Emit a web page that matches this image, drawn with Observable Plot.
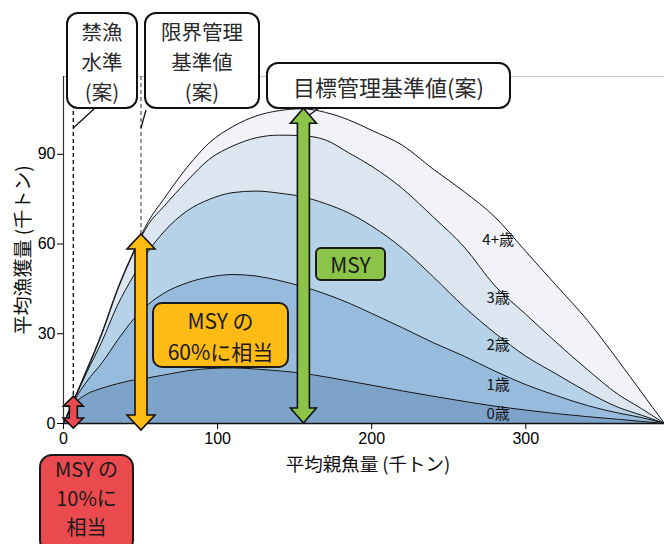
<!DOCTYPE html>
<html><head><meta charset="utf-8">
<script src="https://cdn.jsdelivr.net/npm/d3@7"></script>
<script src="https://cdn.jsdelivr.net/npm/@observablehq/plot@0.6"></script>
<style>
html,body{margin:0;padding:0;background:#fff;}
#chart svg{display:block;}
</style></head><body><div id="chart"></div>
<script>
// ---- data ----
const ages = ["0歳", "1歳", "2歳", "3歳", "4+歳"];
const ssb = [0, 7, 15, 25, 35, 45, 55, 65, 80, 95, 110, 125, 140, 155, 170, 185, 200, 220, 240, 260, 280, 300, 320, 340, 360, 375, 390];
const age0 = [0, 6.5, 9.8, 11.8, 13.3, 14.5, 15.3, 16.2, 17.6, 18.4, 18.6, 18.2, 17.6, 16.8, 15.6, 14.2, 12.8, 10.9, 9.1, 7.4, 5.8, 4.5, 3.3, 2.3, 1.4, 0.7, 0];
const age1 = [0, 1.1, 4.2, 8.5, 14.5, 20.1, 24.5, 27.3, 29.4, 30.6, 31.2, 31.1, 30.2, 29.0, 27.7, 26.1, 24.0, 21.1, 17.9, 15.1, 11.7, 8.5, 6.0, 3.7, 2.1, 1.3, 0];
const age2 = [0, 0.4, 3.0, 7.2, 11.7, 14.4, 17.7, 20.5, 24.0, 26.0, 27.4, 28.4, 29.2, 30.0, 30.2, 30.1, 29.2, 26.5, 22.0, 16.5, 12.7, 9.5, 7.2, 4.5, 1.9, 0.8, 0];
const age3 = [0, 0.2, 0.5, 2.5, 5.0, 7.5, 9.0, 8.5, 10.0, 13.5, 15.6, 17.8, 19.4, 20.4, 21.3, 20.1, 20.0, 20.0, 20.0, 20.0, 15.8, 14.0, 10.5, 7.5, 4.3, 2.2, 0];
const age4 = [0, 0.1, 0.5, 0.5, 0.5, 0.5, 1.0, 2.5, 4.5, 5.5, 6.5, 7.3, 8.2, 9.0, 9.2, 11.0, 12.0, 14.5, 16.0, 18.5, 23.0, 21.0, 19.0, 16.5, 11.3, 5.5, 0];
const series = [age0, age1, age2, age3, age4];
const layerColors = ["#7ea3cb", "#96bbdc", "#b6d2e9", "#dbe6f1", "#f1f3f8"];

const xTicks = [0, 100, 200, 300];
const yTicks = [0, 30, 60, 90];
const xLabel = "平均親魚量 (千トン)";
const yLabel = "平均漁獲量 (千トン)";
const labelSSB = 273;

// reference points: 禁漁水準, 限界管理基準値, 目標管理基準値
const refTitles = [["禁漁", "水準", "(案)"], ["限界管理", "基準値", "(案)"], ["目標管理基準値(案)"]];
const refSSB = [6.7, 50.6, 156];
const refCatch = [9, 63.2, 105.2];
const refNotes = [["MSY の", "10%に", "相当"], ["MSY の", "60%に相当"], ["MSY"]];
const refColors = ["#eb4a4f", "#fdbb13", "#8cc349"];

// ---- derived table ----
const table = ages.flatMap((a, i) => ssb.map((x, j) => ({age: a, x, y: series[i][j]})));
function interp(arr, x) {
  for (let j = 1; j < ssb.length; j++) {
    if (x <= ssb[j]) { const t = (x - ssb[j-1]) / (ssb[j] - ssb[j-1]); return arr[j-1] + t * (arr[j] - arr[j-1]); }
  }
  return arr[arr.length - 1];
}
let acc = 0;
const labelRows = ages.map((a, i) => { const v = interp(series[i], labelSSB); const mid = acc + v / 2; acc += v; return {age: a, x: labelSSB, y: mid}; });

const CJK = "'Noto Sans CJK JP', 'Noto Sans', sans-serif";
const LAT = "'Liberation Sans', Arial, sans-serif";

function arrowPath(cx, yT, yB, hw, sw, hl) {
  return `M${cx},${yT}L${cx+hw},${yT+hl}L${cx+sw},${yT+hl}L${cx+sw},${yB-hl}L${cx+hw},${yB-hl}L${cx},${yB}L${cx-hw},${yB-hl}L${cx-sw},${yB-hl}L${cx-sw},${yT+hl}L${cx-hw},${yT+hl}Z`;
}

function multiline(g, lines, cx, cy0, lh, size, fill) {
  const t = g.append("text").attr("text-anchor", "middle").attr("dominant-baseline", "central")
    .attr("font-family", CJK).attr("font-size", size).attr("fill", fill);
  lines.forEach((s, k) => {
    t.append("tspan").attr("x", cx).attr("y", cy0 + k * lh).text(s);
  });
}

function annotations(index, scales, values, dims) {
  const X = scales.x, Y = scales.y;
  const g = d3.create("svg:g");
  const top = dims.marginTop;
  // dashed guide lines
  [0, 1].forEach(i => {
    g.append("line").attr("x1", X(refSSB[i])).attr("x2", X(refSSB[i]))
      .attr("y1", top).attr("y2", Y(refCatch[i]))
      .attr("stroke", i === 0 ? "#111" : "#444").attr("stroke-width", i === 0 ? 1.4 : 1.1)
      .attr("stroke-dasharray", "4,3");
  });
  // arrows
  const arrowGeom = [
    {hw: 10, sw: 4, hl: 10, bottomExtra: 5},
    {hw: 14, sw: 6, hl: 15, bottomExtra: 7},
    {hw: 13, sw: 6, hl: 15, bottomExtra: 0}
  ];
  refSSB.forEach((s, i) => {
    const a = arrowGeom[i];
    g.append("path").attr("d", arrowPath(X(s), Y(refCatch[i]), Y(0) + a.bottomExtra, a.hw, a.sw, a.hl))
      .attr("fill", refColors[i]).attr("stroke", "#111").attr("stroke-width", 1.6).attr("stroke-linejoin", "miter");
  });
  // callout boxes
  const callouts = [
    {x0: 67, x1: 137, y0: 13, y1: 108, tail: [[95, 108], [X(refSSB[0]), 128]]},
    {x0: 145, x1: 259, y0: 13, y1: 108, tail: [[146, 110], [X(refSSB[1]), 128]]},
    {x0: 267, x1: 510, y0: 63, y1: 108, tail: [[319, 108], [X(refSSB[2]) + 6, 115]]}
  ];
  callouts.forEach((c, i) => {
    g.append("rect").attr("x", c.x0).attr("y", c.y0).attr("width", c.x1 - c.x0).attr("height", c.y1 - c.y0)
      .attr("rx", 11).attr("fill", "#fff").attr("stroke", "#111").attr("stroke-width", 2);
    g.append("line").attr("x1", c.tail[0][0]).attr("y1", c.tail[0][1]).attr("x2", c.tail[1][0]).attr("y2", c.tail[1][1])
      .attr("stroke", "#111").attr("stroke-width", 1.3);
    const lines = refTitles[i];
    const lh = 30;
    const cy = (c.y0 + c.y1) / 2 - (lines.length - 1) * lh / 2;
    multiline(g, lines, (c.x0 + c.x1) / 2, cy, lh, lines.length > 1 ? 20.5 : 22, "#2a2a2a");
  });
  // note boxes
  const notes = [
    {x0: 40, x1: 133, y0: 455, y1: 552, rx: 12, size: 20, lh: 29, cy0: 468},
    {x0: 153, x1: 288, y0: 303, y1: 367, rx: 9, size: 21, lh: 30.5, cy0: 320},
    {x0: 316, x1: 385, y0: 248, y1: 280, rx: 5, size: 21, lh: 30.5, cy0: 264}
  ];
  notes.forEach((n, i) => {
    g.append("rect").attr("x", n.x0).attr("y", n.y0).attr("width", n.x1 - n.x0).attr("height", n.y1 - n.y0)
      .attr("rx", n.rx).attr("fill", refColors[i]).attr("stroke", "#1a1a1a").attr("stroke-width", 2);
    multiline(g, refNotes[i], (n.x0 + n.x1) / 2, n.cy0, n.lh, n.size, "#1a1a1a");
  });
  return g.node();
}

const chart = Plot.plot({
  width: 664,
  height: 544,
  marginLeft: 63,
  marginRight: 0,
  marginTop: 76,
  marginBottom: 121,
  style: {fontFamily: LAT, fontSize: "16px", background: "#fff", overflow: "visible"},
  x: {domain: [0, 390]},
  y: {domain: [0, 116]},
  color: {domain: ages, range: layerColors},
  marks: [
    Plot.areaY(table, {x: "x", y: "y", z: "age", fill: "age", curve: "monotone-x"}),
    Plot.lineY(table, Plot.stackY2({x: "x", y: "y", z: "age", stroke: "#151515", strokeWidth: 1, curve: "monotone-x"})),
    Plot.ruleY([116], {stroke: "#c4c4c4", strokeWidth: 1}),
    Plot.ruleX([0], {stroke: "#333", strokeWidth: 1.2}),
    Plot.ruleY([0], {stroke: "#111", strokeWidth: 1.3}),
    Plot.axisX({ticks: xTicks, tickSize: 6, tickPadding: 3, fontSize: 16, label: null}),
    Plot.axisY({ticks: yTicks, tickSize: 6, tickPadding: 2, fontSize: 16, label: null}),
    Plot.text([xLabel], {frameAnchor: "bottom", textAnchor: "middle", lineAnchor: "middle", dy: 42, dx: 4, fontSize: 18.5, fontFamily: CJK, fill: "#111"}),
    Plot.text([yLabel], {frameAnchor: "left", textAnchor: "middle", lineAnchor: "middle", dx: -40, rotate: -90, fontSize: 19, fontFamily: CJK, fill: "#111"}),
    Plot.text(labelRows, {x: "x", y: "y", text: "age", dx: 14, fontSize: 15, fontFamily: CJK, fill: "#111"}),
    annotations
  ]
});
document.getElementById("chart").appendChild(chart);
</script></body></html>
